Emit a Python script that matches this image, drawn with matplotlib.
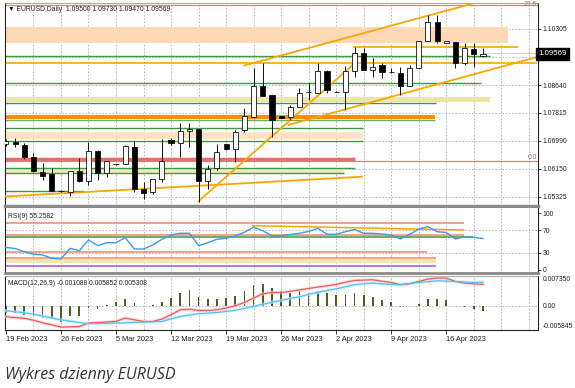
import numpy as np
import matplotlib
matplotlib.use('Agg')
import matplotlib.pyplot as plt
from matplotlib.transforms import blended_transform_factory

# EURUSD daily bars, 19 Feb - 20 Apr 2023 (broker shows Sunday bars, 6 per week)
opens = [1.06890, 1.06960, 1.06860, 1.06504, 1.06058, 1.05998, 1.05494, 1.05464, 1.06088, 1.05790,
         1.06682, 1.06028, 1.06295, 1.06295, 1.06801, 1.05553, 1.05464, 1.05850, 1.07008, 1.06919,
         1.07276, 1.07335, 1.05790, 1.06177, 1.06890, 1.06741, 1.07305, 1.07691, 1.08612, 1.08345,
         1.07721, 1.07691, 1.07989, 1.08434, 1.08404, 1.09058, 1.08434, 1.08434, 1.09058, 1.09592,
         1.09087, 1.09236, 1.09028, 1.08998, 1.08612, 1.09147, 1.09949, 1.10513, 1.09900, 1.09919,
         1.09295, 1.09711, 1.09500]
highs = [1.07038, 1.07068, 1.06919, 1.06622, 1.06325, 1.06177, 1.05510, 1.06088, 1.06474, 1.06949,
         1.06711, 1.06385, 1.06310, 1.06860, 1.06979, 1.05761, 1.05850, 1.07038, 1.07068, 1.07513,
         1.07513, 1.07335, 1.06266, 1.06890, 1.06900, 1.07305, 1.07959, 1.09147, 1.09295, 1.08345,
         1.07721, 1.08048, 1.08553, 1.08701, 1.09295, 1.09087, 1.08450, 1.09206, 1.09770, 1.09741,
         1.09444, 1.09295, 1.09147, 1.09176, 1.09236, 1.09949, 1.10721, 1.10721, 1.09960, 1.09919,
         1.09889, 1.09889, 1.09730]
lows = [1.06830, 1.06801, 1.06444, 1.06058, 1.05820, 1.05480, 1.05464, 1.05345, 1.05761, 1.05672,
        1.05820, 1.05909, 1.06280, 1.06295, 1.05464, 1.05256, 1.05404, 1.05761, 1.06860, 1.06504,
        1.06801, 1.05167, 1.05553, 1.06117, 1.06711, 1.06355, 1.07246, 1.07662, 1.08315, 1.07097,
        1.07662, 1.07602, 1.07989, 1.08196, 1.08404, 1.08404, 1.08420, 1.07899, 1.08879, 1.09087,
        1.08879, 1.08850, 1.08998, 1.08345, 1.08612, 1.09147, 1.09949, 1.09889, 1.09890, 1.09147,
        1.09236, 1.09176, 1.09470]
closes = [1.06979, 1.06890, 1.06504, 1.06088, 1.05939, 1.05494, 1.05480, 1.06088, 1.05790, 1.06682,
          1.06028, 1.06385, 1.06290, 1.06830, 1.05553, 1.05434, 1.05850, 1.06385, 1.06919, 1.07276,
          1.07335, 1.05790, 1.06147, 1.06652, 1.06741, 1.07246, 1.07721, 1.08612, 1.08315, 1.07602,
          1.07662, 1.07989, 1.08404, 1.08425, 1.09058, 1.08493, 1.08440, 1.09058, 1.09592, 1.09087,
          1.09176, 1.09028, 1.09020, 1.08612, 1.09147, 1.09949, 1.10513, 1.09949, 1.09940, 1.09295,
          1.09741, 1.09562, 1.09569]

rsi = [39.7, 38.0, 32.3, 27.9, 26.5, 20.6, 19.4, 38.3, 34.0, 52.9,
       42.9, 48.1, 48.1, 57.0, 37.0, 37.0, 44.1, 54.1, 61.7, 64.7,
       64.7, 42.9, 48.1, 54.1, 55.9, 60.0, 66.5, 75.3, 69.3, 60.0,
       60.5, 62.6, 64.7, 67.9, 73.5, 63.0, 63.0, 67.5, 71.4, 64.7,
       64.7, 63.5, 61.7, 54.7, 62.6, 72.3, 76.4, 67.5, 66.1, 54.7,
       58.7, 57.7, 55.2582]

macd_hist = [-0.0016, -0.0017, -0.0021, -0.0025, -0.0029, -0.0032, -0.0038, -0.0025, -0.0024, -0.0005,
             -0.0007, 0.0003, 0.0009, 0.0017, 0.0007, 0.0001, 0.0003, 0.0010, 0.0020, 0.0032,
             0.0040, 0.0023, 0.0017, 0.0017, 0.0020, 0.0025, 0.0036, 0.0052, 0.0054, 0.0044,
             0.0036, 0.0033, 0.0036, 0.0033, 0.0038, 0.0032, 0.0028, 0.0028, 0.0032, 0.0028,
             0.0022, 0.0015, 0.0010, -0.0002, -0.0001, 0.0004, 0.0017, 0.0017, 0.0014, 0.0001,
             -0.0002, -0.0007, -0.001088]
macd_red = [-0.00261, -0.00281, -0.00298, -0.00347, -0.00408, -0.00457, -0.00513, -0.00506, -0.00499, -0.00415,
            -0.00403, -0.00389, -0.00376, -0.00293, -0.00335, -0.00376, -0.00376, -0.00318, -0.00213, -0.00090,
            -0.00073, -0.00108, -0.00108, -0.00090, -0.00049, 0.00007, 0.00088, 0.00196, 0.00301, 0.00332,
            0.00332, 0.00357, 0.00398, 0.00430, 0.00464, 0.00496, 0.00528, 0.00582, 0.00626, 0.00635,
            0.00643, 0.00606, 0.00577, 0.00521, 0.00545, 0.00601, 0.00660, 0.00684, 0.00684, 0.00601,
            0.00562, 0.00545, 0.005308]
macd_blue = [-0.00115, -0.00139, -0.00164, -0.00200, -0.00244, -0.00291, -0.00335, -0.00369, -0.00401, -0.00433,
             -0.00428, -0.00423, -0.00415, -0.00408, -0.00398, -0.00391, -0.00384, -0.00376, -0.00310, -0.00254,
             -0.00220, -0.00188, -0.00171, -0.00156, -0.00130, -0.00103, -0.00054, -0.00007, 0.00044, 0.00093,
             0.00137, 0.00191, 0.00227, 0.00288, 0.00335, 0.00381, 0.00423, 0.00472, 0.00521, 0.00545,
             0.00562, 0.00545, 0.00530, 0.00521, 0.00552, 0.00577, 0.00599, 0.00618, 0.00611, 0.00601,
             0.00589, 0.00577, 0.005852]

date_labels = ['19 Feb 2023', '26 Feb 2023', '5 Mar 2023', '12 Mar 2023', '19 Mar 2023',
               '26 Mar 2023', '2 Apr 2023', '9 Apr 2023', '16 Apr 2023']
price_ticks = [1.10305, 1.09480, 1.08640, 1.07815, 1.06990, 1.06150, 1.05325]
rsi_ticks = [100, 70, 30, 0]
last_price = 1.09569

# horizontal support/resistance lines: (price, end bar, colour, width)
level_lines = [
    (1.09494, 52.8, '#3c9c3c', 1.0),
    (1.09304, 57.9, '#ffa500', 1.2),
    (1.08710, 51.8, '#3c9c3c', 1.0),
    (1.08098, 46.9, '#3c9c3c', 1.0),
    (1.07594, 46.8, '#5cb85c', 1.0),
    (1.07374, 38.9, '#3c9c3c', 1.0),
    (1.06988, 38.9, '#3c9c3c', 1.0),
    (1.06435, 38.0, '#f06a6a', 2.5),
    (1.06168, 38.0, '#3c9c3c', 1.0),
    (1.06019, 36.9, '#3c9c3c', 1.0),
    (1.05494, 8.5, '#3c9c3c', 1.0),
]
# zones: (low, high, end bar, colour)
level_zones = [
    (1.09898, 1.10373, 54.7, '#fdd9b5'),
    (1.08146, 1.08276, 52.8, '#ece6a8'),
    (1.07632, 1.07751, 46.8, '#ff8c00'),
    (1.07029, 1.07246, 38.9, '#fde3c8'),
    (1.06037, 1.06156, 36.9, '#fde3c8'),
]
# trend lines: ((bar, price), (bar, price))
trend_lines = [
    ((-0.5, 1.05325), (38.9, 1.05918)),
    ((20.9, 1.05167), (37.8, 1.09236)),
    ((30.75, 1.07454), (57.9, 1.09473)),
    ((25.9, 1.09215), (50.9, 1.11062)),
]
fib_levels = [(1.11018, '23.6', 'center'), (1.06394, '0.0', 'bottom')]

# RSI panel levels: (value, end bar, colour)
rsi_levels = [
    (83.4, 49.9, '#f4876a'),
    (61.2, 49.9, '#f4876a'),
    (57.3, 50.9, '#3c9c3c'),
    (32.3, 45.9, '#f4876a'),
    (20.6, 46.9, '#f4876a'),
    (7.6, 46.9, '#a855d8'),
]
rsi_trend = ((26.9, 78.1), (49.9, 70.5))

FONT = 'Liberation Sans'
FS = 4.9
GRID = dict(color='#a9b0b8', lw=0.6, ls=(0, (2, 2)))
XMIN, XMAX = -0.1, 58.0

n = len(closes)
x = np.arange(n)

fig = plt.figure(figsize=(5.75, 3.88), dpi=100)
L, W = 5 / 575, 533 / 575
ax = fig.add_axes([L, 1 - 206 / 388, W, 203 / 388])
ax_rsi = fig.add_axes([L, 1 - 273 / 388, W, 65 / 388])
ax_macd = fig.add_axes([L, 1 - 330 / 388, W, 54 / 388])

for a in (ax, ax_rsi, ax_macd):
    a.set_xlim(XMIN, XMAX)
    a.set_xticks([])
    for xv in range(3, 58, 3):
        a.axvline(xv, zorder=0, **GRID)
    a.spines['left'].set_color('#222222')
    a.spines['right'].set_color('#222222')
    a.spines['left'].set_linewidth(0.8)
    a.spines['right'].set_linewidth(0.8)
    a.yaxis.tick_right()
    a.tick_params(axis='y', length=2, width=0.6, pad=1.5, labelsize=FS, colors='#222222')

# ---- main price panel ----
ax.set_ylim(1.05048, 1.11077)
ax.set_yticks(price_ticks)
ax.set_yticklabels([f'{p:.5f}' for p in price_ticks], fontfamily=FONT, fontsize=FS)
for p in price_ticks:
    ax.axhline(p, zorder=0, **GRID)
ax.spines['top'].set_color('#999999')
ax.spines['top'].set_linewidth(0.6)
ax.spines['bottom'].set_color('#8a8a8a')
ax.spines['bottom'].set_linewidth(2.5)

for lo, hi, end, col in level_zones:
    ax.fill_between([XMIN, end], lo, hi, color=col, lw=0, zorder=1)
for p, end, col, lw in level_lines:
    ax.hlines(p, XMIN, end, color=col, lw=lw, zorder=2)
ax.hlines(1.09779, 37.8, 55.8, color='#ffa500', lw=1.2, zorder=2)
for p, lab, va in fib_levels:
    ax.axhline(p, color='#c0907a', lw=0.9, zorder=2)
    ax.text(57.9, p, lab, fontsize=FS, fontfamily=FONT, color='#a0705a',
            ha='right', va=va)
for (x0, y0), (x1, y1) in trend_lines:
    ax.plot([x0, x1], [y0, y1], color='#ffa500', lw=1.3, zorder=3, solid_capstyle='butt')
ax.hlines(1.09580, 52, XMAX, color='#c8c8c8', lw=0.6, zorder=2)

# candles
for i in range(n):
    o, h, l, c = opens[i], highs[i], lows[i], closes[i]
    ax.vlines(i, l, h, color='#111111', lw=0.7, zorder=4)
    body = abs(c - o)
    if body < 0.00004:
        ax.hlines(o, i - 0.28, i + 0.28, color='#111111', lw=0.9, zorder=5)
    else:
        face = 'white' if c > o else 'black'
        ax.bar(i, body, bottom=min(o, c), width=0.56, color=face,
               edgecolor='#111111', lw=0.6, zorder=5)

trans = blended_transform_factory(ax.transAxes, ax.transData)
ax.text(1.0, last_price, f'{last_price:.5f}', transform=trans, fontsize=FS + 0.8,
        fontfamily=FONT, color='white', ha='left', va='center', zorder=10,
        bbox=dict(boxstyle='square,pad=0.3', fc='black', ec='black'), clip_on=False)
ax.text(0.006, 0.985, '\u25bc EURUSD,Daily  1.09500 1.09730 1.09470 1.09569',
        transform=ax.transAxes, fontsize=FS, fontfamily=[FONT, 'DejaVu Sans'],
        color='#222222', va='top', ha='left', zorder=10)

# ---- RSI panel ----
ax_rsi.set_ylim(-5.3, 109.3)
ax_rsi.set_yticks(rsi_ticks)
ax_rsi.set_yticklabels([str(v) for v in rsi_ticks], fontfamily=FONT, fontsize=FS)
for v in (70, 30):
    ax_rsi.axhline(v, zorder=0, **GRID)
ax_rsi.spines['top'].set_visible(False)
ax_rsi.spines['bottom'].set_color('#8a8a8a')
ax_rsi.spines['bottom'].set_linewidth(2.0)
ax_rsi.fill_between([XMIN, 46.9], 12.3, 19.4, color='#f1e4b5', lw=0, zorder=1)
for v, end, col in rsi_levels:
    ax_rsi.hlines(v, XMIN, end, color=col, lw=1.1, zorder=2)
(rx0, ry0), (rx1, ry1) = rsi_trend
ax_rsi.plot([rx0, rx1], [ry0, ry1], color='#ffa500', lw=1.1, zorder=2)
ax_rsi.plot(x, rsi, color='#3a9af0', lw=1.0, zorder=3)
ax_rsi.text(0.006, 0.93, f'RSI(9) {rsi[-1]:.4f}', transform=ax_rsi.transAxes,
            fontsize=FS, fontfamily=FONT, color='#222222', va='top', ha='left')

# ---- MACD panel ----
mlo, mhi = -0.005845, 0.00735
ax_macd.set_ylim(mlo, mhi)
ax_macd.set_yticks([])
ax_macd.axhline(0, zorder=0, **GRID)
ax_macd.spines['top'].set_color('#aaaaaa')
ax_macd.spines['top'].set_linestyle((0, (2, 1)))
ax_macd.spines['top'].set_linewidth(0.8)
ax_macd.spines['bottom'].set_color('#222222')
ax_macd.spines['bottom'].set_linewidth(0.8)
ax_macd.bar(x, macd_hist, width=0.18, color='#4e5f22', zorder=2)
ax_macd.plot(x, macd_red, color='#ffc8c8', lw=2.4, alpha=0.6, zorder=3)
ax_macd.plot(x, macd_red, color='#f05a5a', lw=0.9, zorder=4)
ax_macd.plot(x, macd_blue, color='#c8ecff', lw=2.4, alpha=0.6, zorder=3)
ax_macd.plot(x, macd_blue, color='#4fc3f7', lw=0.9, zorder=4)
mtrans = blended_transform_factory(ax_macd.transAxes, ax_macd.transData)
ax_macd.text(1.008, mhi, f'{mhi:.6f}', transform=mtrans, fontsize=FS, fontfamily=FONT,
             color='#222222', va='top', ha='left', clip_on=False)
ax_macd.text(1.008, 0, '0.00', transform=mtrans, fontsize=FS, fontfamily=FONT,
             color='#222222', va='center', ha='left', clip_on=False)
ax_macd.text(1.008, mlo, f'{mlo:.6f}', transform=mtrans, fontsize=FS, fontfamily=FONT,
             color='#222222', va='bottom', ha='left', clip_on=False)
ax_macd.text(0.006, 0.93, 'MACD(12,26,9) -0.001088 0.005852 0.005308',
             transform=ax_macd.transAxes, fontsize=FS, fontfamily=FONT,
             color='#222222', va='top', ha='left')

# date axis under the MACD panel
week_pos = list(range(0, 6 * len(date_labels), 6))
ax_macd.set_xticks(week_pos)
ax_macd.set_xticklabels(date_labels, fontfamily=FONT, fontsize=FS + 0.4, ha='left', color='#222222')
ax_macd.tick_params(axis='x', length=3, width=0.6, pad=1.5, colors='#222222')

fig.text(5 / 575, 1 - 375 / 388, 'Wykres dzienny EURUSD', fontsize=11.5,
         fontfamily='Open Sans', style='italic', color='#333333', va='center', ha='left')

plt.savefig('out.png', dpi=100)
plt.close()
